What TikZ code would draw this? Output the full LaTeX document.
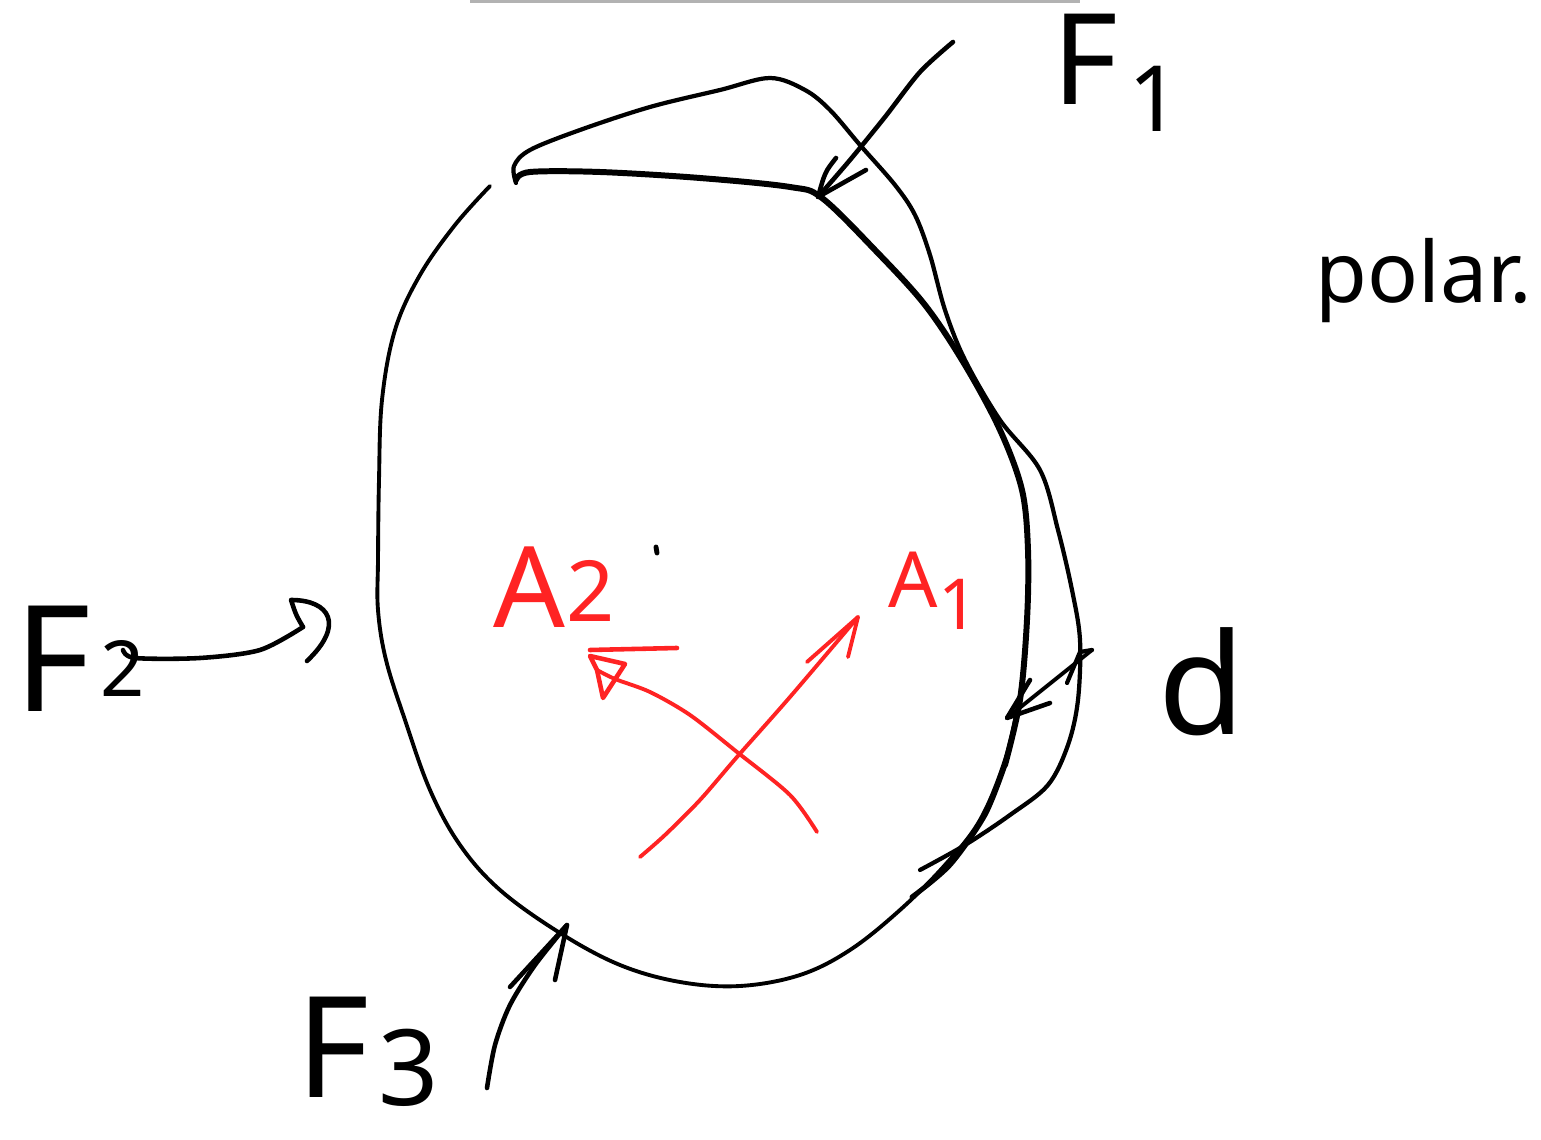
\documentclass[tikz,border=0pt]{standalone}
\usepackage{fontspec}
\setmainfont{Noto Sans}
\definecolor{pen}{RGB}{0,0,0}
\definecolor{redpen}{RGB}{255,35,35}
\begin{document}
\begin{tikzpicture}[x=0.01cm,y=-0.01cm,
  thinline/.style={line width=1.0pt,line cap=round,line join=round,draw=pen},
  boldline/.style={line width=1.7pt,line cap=round,line join=round,draw=pen},
  redline/.style={line width=1.1pt,line cap=round,line join=round,draw=redpen},
  lab/.style={inner sep=0pt,text=pen},
  rlab/.style={inner sep=0pt,text=redpen}]
\useasboundingbox (0,0) rectangle (1541,1140);
% faint line at top
\draw[gray!60,line width=1pt] (470,1) -- (1080,1);

% main body, thin part
\draw[thinline,line width=1.1pt] plot[smooth,tension=0.6] coordinates {(490,186) (455,225) (420,275) (395,330) (382,400) (379,480) (378,560) (378,610) (386,660) (405,720) (430,790) (460,845) (500,890) (560,933) (620,965) (680,982) (740,986) (800,975) (850,950) (900,910) (945,865) (980,820) (1005,760) (1018,705) (1022,680)};
% main body, bold part
\draw[boldline] plot[smooth,tension=0.55] coordinates {(1005,765) (1020,700) (1027,620) (1028,550) (1022,490) (1000,430) (965,365) (925,305) (875,250) (822,198) (790,187) (700,178) (600,172) (530,172) (516,180)};
% outer (displaced) outline
\draw[thinline,line width=1.2pt] plot[smooth,tension=0.55] coordinates {(516,183) (514,166) (530,150) (580,130) (650,107) (720,90) (770,78) (805,90) (830,110) (860,145) (895,185) (915,215) (930,255) (945,310) (965,360) (1000,420) (1040,470) (1058,530) (1072,590) (1080,640) (1078,700) (1068,745) (1048,785) (1010,815) (965,845) (920,870)};
\draw[boldline,line width=1.4pt] plot[smooth] coordinates {(1005,765) (985,815) (950,865) (912,897)};

% F1 arrow
\coordinate (f1s) at (953,42);
\coordinate (f1t) at (818,197);
\draw[boldline,line width=1.3pt] plot[smooth] coordinates {(f1s) (920,72) (885,117) (850,160) (f1t)};
\draw[boldline,line width=1.3pt] (836,158) .. controls (825,172) .. (f1t) -- (866,170);
\node[lab,anchor=base west,font=\fontsize{36}{36}\selectfont] (F1) at (1052,105) {F};
\node[lab,anchor=base west,font=\fontsize{26}{26}\selectfont] (F1s) at (1128,132) {1};

% F2 arrow
\coordinate (f2s) at (123,650);
\coordinate (f2t) at (303,627);
\draw[boldline,line width=1.3pt] plot[smooth] coordinates {(f2s) (135,658) (200,658) (260,650) (f2t)};
\draw[boldline,line width=1.3pt] (f2t) .. controls (296,615) .. (291,600) .. controls (330,600) and (345,625) .. (307,661);
\node[lab,anchor=base west,font=\fontsize{42}{42}\selectfont] (F2) at (14,712) {F};
\node[lab,anchor=base west,font=\fontsize{22}{22}\selectfont] (F2s) at (100,697) {2};

% F3 arrow
\coordinate (f3s) at (487,1088);
\coordinate (f3t) at (567,925);
\draw[boldline,line width=1.3pt] plot[smooth] coordinates {(f3s) (495,1045) (510,1005) (535,965) (f3t)};
\draw[boldline,line width=1.3pt] (510,987) -- (f3t) -- (555,980);
\node[lab,anchor=base west,font=\fontsize{40}{40}\selectfont] (F3) at (296,1098) {F};
\node[lab,anchor=base west,font=\fontsize{30}{30}\selectfont] (F3s) at (378,1106) {3};

% d arrow
\coordinate (da) at (1007,718);
\coordinate (db) at (1092,650);
\draw[thinline,line width=1.1pt] (da) -- (db);
\draw[boldline,line width=1.3pt] (1030,680) -- (da) -- (1050,703);
\draw[boldline,line width=1.2pt] (1067,683) -- (1080,652) -- (db);
\node[lab,anchor=base west,font=\fontsize{40}{40}\selectfont] (d) at (1158,735) {d};

% polar
\node[lab,anchor=base west,font=\fontsize{24}{24}\selectfont] (polar) at (1315,303) {polar.};

% small dot
\draw[boldline,line width=1.4pt] (656,547) -- (657,553);

% red A1 arrow
\coordinate (a1s) at (640,857);
\coordinate (a1t) at (858,617);
\draw[redline] plot[smooth] coordinates {(a1s) (665,835) (700,800) (737,757) (790,697) (a1t)};
\draw[redline] (807,662) -- (a1t) -- (848,657);
\node[rlab,anchor=base west,font=\fontsize{22}{22}\selectfont] (A1) at (888,608) {A};
\node[rlab,anchor=base west,font=\fontsize{20}{20}\selectfont] (A1s) at (938,630) {1};

% red A2 arrow
\coordinate (a2s) at (817,832);
\coordinate (a2t) at (597,670);
\draw[redline] plot[smooth] coordinates {(a2s) (790,795) (737,752) (690,715) (650,692) (615,679) (a2t)};
\draw[redline,line width=1.3pt] (a2t) -- (590,656) -- (625,664) -- (603,698) -- (a2t);
\draw[redline,line width=1.3pt] (590,650) -- (677,648);
\node[rlab,anchor=base west,font=\fontsize{32}{32}\selectfont] (A2) at (493,628) {A};
\node[rlab,anchor=base west,font=\fontsize{24}{24}\selectfont] (A2s) at (566,622) {2};
\end{tikzpicture}
\end{document}
